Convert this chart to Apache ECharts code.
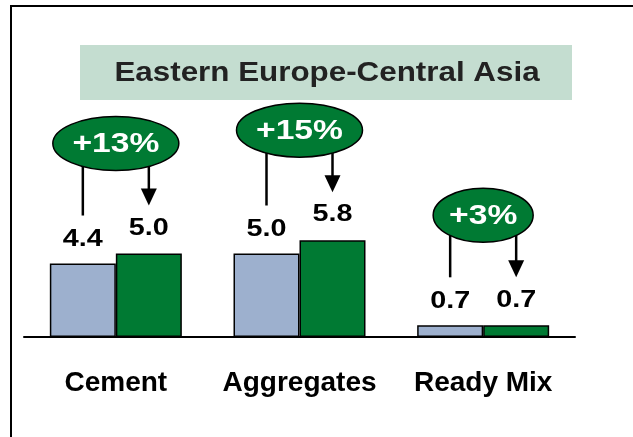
<!DOCTYPE html>
<html>
<head>
<meta charset="utf-8">
<script src="https://cdn.jsdelivr.net/npm/echarts@6/dist/echarts.min.js"></script>
<style>
  html, body { margin: 0; padding: 0; background: #fff; }
  #chart { width: 633px; height: 437px; }
</style>
</head>
<body>
<div id="chart"></div>
<script>
// values
const categories = ["Cement", "Aggregates", "Ready Mix"];
const before = [4.4, 5.0, 0.7];
const after = [5.0, 5.8, 0.7];
const growth = ["+13%", "+15%", "+3%"];

const BLUE = "#9DB0CE";
const GREEN = "#007A33";
const BAR_W = 66;
const FONT = "'Liberation Sans', Arial, sans-serif";

const chart = echarts.init(document.getElementById("chart"));

function valueText(x, y, v) {
  return {
    type: "text", x: x, y: y, scaleX: 1.25,
    style: { text: v.toFixed(1), fill: "#000", fontSize: 23, fontWeight: "bold", fontFamily: FONT, align: "center", verticalAlign: "middle" }
  };
}

// value labels, ellipse with the % change and the two arrows
function renderGrowth(params, api) {
  const i = api.value(0);
  const v0 = api.value(1);
  const v1 = api.value(2);
  const p0 = api.coord([i, v0]);
  const p1 = api.coord([i, v1]);
  const xl = p0[0] - BAR_W / 2;
  const xr = p0[0] + BAR_W / 2;
  const yl = p0[1] - 48;
  const yr = p1[1] - 48;
  const cy = Math.min(p0[1], p1[1]) - 110;
  const text = growth[i];
  const rx = 13 * text.length + 11;
  return {
    type: "group",
    children: [
      valueText(xl, p0[1] - 24, v0),
      valueText(xr, p1[1] - 25, v1),
      { type: "line", shape: { x1: xl, y1: cy, x2: xl, y2: yl }, style: { stroke: "#000", lineWidth: 2.5 } },
      { type: "line", shape: { x1: xr, y1: cy, x2: xr, y2: yr - 15 }, style: { stroke: "#000", lineWidth: 2.5 } },
      { type: "polygon", shape: { points: [[xr - 8, yr - 17], [xr + 8, yr - 17], [xr, yr]] }, style: { fill: "#000" } },
      { type: "ellipse", shape: { cx: p0[0], cy: cy, rx: rx, ry: 27 }, style: { fill: GREEN, stroke: "#000", lineWidth: 1.5 } },
      {
        type: "text", x: p0[0], y: cy + 1, scaleX: 1.2,
        style: { text: text, fill: "#fff", fontSize: 28, fontWeight: "bold", fontFamily: FONT, align: "center", verticalAlign: "middle" }
      }
    ]
  };
}

const option = {
  animation: false,
  grid: { left: 24, right: 58, top: 170, bottom: 100 },
  xAxis: {
    type: "category",
    data: categories,
    axisLine: { lineStyle: { color: "#000", width: 2 } },
    axisTick: { show: false },
    axisLabel: { interval: 0, margin: 32, fontSize: 28, fontWeight: "bold", fontFamily: FONT, color: "#000" }
  },
  yAxis: { type: "value", min: 0, max: 10, show: false },
  graphic: [
    { type: "rect", shape: { x: 11, y: 6, width: 700, height: 500 }, style: { fill: "none", stroke: "#000", lineWidth: 2 } },
    { type: "rect", shape: { x: 80, y: 45, width: 492, height: 55 }, style: { fill: "#C4DDD0" } },
    {
      type: "text", x: 327, y: 73, scaleX: 1.12,
      style: { text: "Eastern Europe-Central Asia", fill: "#222", fontSize: 28, fontWeight: "bold", fontFamily: FONT, align: "center", verticalAlign: "middle" }
    }
  ],
  series: [
    {
      type: "bar", data: before, barWidth: BAR_W, barGap: "0%",
      itemStyle: { color: BLUE, borderColor: "#000", borderWidth: 1.5 }
    },
    {
      type: "bar", data: after, barWidth: BAR_W,
      itemStyle: { color: GREEN, borderColor: "#000", borderWidth: 1.5 }
    },
    {
      type: "custom",
      renderItem: renderGrowth,
      encode: { x: 0, y: [1, 2] },
      data: categories.map((c, i) => [i, before[i], after[i]]),
      z: 5
    }
  ]
};
chart.setOption(option);
</script>
</body>
</html>
